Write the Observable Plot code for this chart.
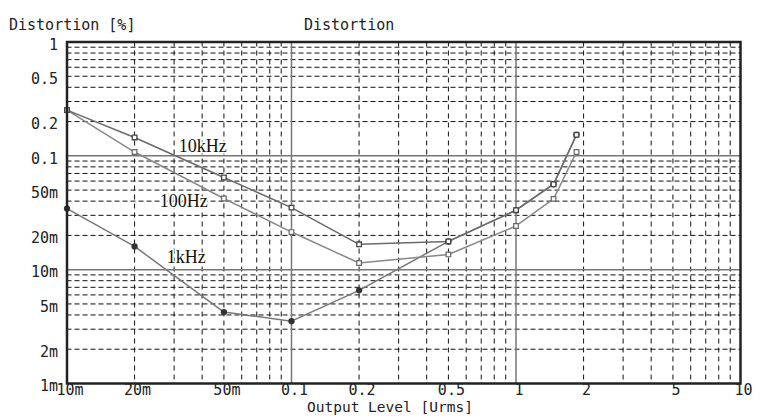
<!DOCTYPE html>
<html>
<head>
<meta charset="utf-8">
<script src="https://cdn.jsdelivr.net/npm/d3@7"></script>
<script src="https://cdn.jsdelivr.net/npm/@observablehq/plot@0.6"></script>
<style>
  html, body { margin: 0; padding: 0; background: #fff; }
  svg { display: block; }
</style>
</head>
<body>
<div id="chart"></div>
<script>
// Output level [Vrms]
const levels = [0.01, 0.02, 0.05, 0.1, 0.2, 0.5, 1, 1.47, 1.86];
// Distortion [%]
const thd10k  = [0.252, 0.145, 0.0645, 0.0351, 0.0167, 0.0177, 0.0333, 0.0563, 0.153];
const thd100  = [0.252, 0.108, 0.0422, 0.0214, 0.01145, 0.0136, 0.0242, 0.0419, 0.108];
const thd1k   = [0.0344, 0.016, 0.00424, 0.00353, 0.00658, 0.0177, 0.0333, 0.0563, 0.153];

const xTicks = [0.01, 0.02, 0.05, 0.1, 0.2, 0.5, 1, 2, 5, 10];
const xTickLabels = ["10m", "20m", "50m", "0.1", "0.2", "0.5", "1", "2", "5", "10"];
const yTicks = [1, 0.5, 0.2, 0.1, 0.05, 0.02, 0.01, 0.005, 0.002, 0.001];
const yTickLabels = ["1", "0.5", "0.2", "0.1", "50m", "20m", "10m", "5m", "2m", "1m"];

const seriesLabels = [
  {name: "10kHz", x: 0.0402, y: 0.1216},
  {name: "100Hz", x: 0.0331, y: 0.0402},
  {name: "1kHz",  x: 0.0340, y: 0.0129}
];

const mk = (ys, name) => levels.map((x, i) => ({x, y: ys[i], name}));
const s10k = mk(thd10k, "10kHz");
const s100 = mk(thd100, "100Hz");
const s1k = mk(thd1k, "1kHz");

const minorX = [], minorY = [];
for (const d of [0.01, 0.1, 1]) for (let k = 2; k <= 9; k++) minorX.push(+(d * k).toPrecision(3));
for (const d of [0.001, 0.01, 0.1]) for (let k = 2; k <= 9; k++) minorY.push(+(d * k).toPrecision(3));

const mono = "'DejaVu Sans Mono', 'Liberation Mono', monospace";

const chart = Plot.plot({
  width: 763,
  height: 418,
  marginLeft: 66.5,
  marginRight: 23,
  marginTop: 41.5,
  marginBottom: 35,
  style: {fontFamily: mono, fontSize: "15px", color: "#222", background: "#fff"},
  x: {type: "log", domain: [0.01, 10], axis: null},
  y: {type: "log", domain: [0.001, 1], axis: null},
  marks: [
    Plot.ruleX(minorX, {stroke: "#111", strokeWidth: 1, strokeDasharray: "5,4"}),
    Plot.ruleY(minorY, {stroke: "#111", strokeWidth: 1, strokeDasharray: "5,3"}),
    Plot.ruleX([0.1, 1], {stroke: "#777", strokeWidth: 1.5}),
    Plot.ruleY([0.01, 0.1], {stroke: "#777", strokeWidth: 1.5}),
    Plot.line(s1k, {x: "x", y: "y", stroke: "#777", strokeWidth: 1.5}),
    Plot.line(s100, {x: "x", y: "y", stroke: "#888", strokeWidth: 1.5}),
    Plot.line(s10k, {x: "x", y: "y", stroke: "#6a6a6a", strokeWidth: 1.5}),
    Plot.dot(s1k, {x: "x", y: "y", r: 2.4, fill: "#333", stroke: "#333"}),
    Plot.dot(s100, {x: "x", y: "y", symbol: "square", r: 2.6, fill: "#fff", stroke: "#666", strokeWidth: 1.2}),
    Plot.dot(s10k, {x: "x", y: "y", symbol: "square", r: 2.6, fill: "#fff", stroke: "#444", strokeWidth: 1.3}),
    Plot.text(seriesLabels, {x: "x", y: "y", text: "name", fontFamily: "'Liberation Serif', 'DejaVu Serif', serif",
      fontSize: 18, fill: "#111", stroke: "#fff", strokeWidth: 3, letterSpacing: "0.5px"}),
    Plot.frame({stroke: "#222", strokeWidth: 2.5}),
    Plot.text(xTicks, {x: d => d, text: (d, i) => xTickLabels[i], frameAnchor: "bottom", dy: 11, dx: 3,
      textAnchor: "middle", fontSize: 15, fill: "#222"}),
    Plot.text(yTicks, {y: d => d, text: (d, i) => yTickLabels[i], frameAnchor: "left", dx: -9, dy: 3,
      textAnchor: "end", fontSize: 15, fill: "#222"}),
    Plot.text(["Distortion [%]"], {frameAnchor: "top-left", dx: -58, dy: -23, textAnchor: "start", fontSize: 15, fill: "#222"}),
    Plot.text(["Distortion"], {frameAnchor: "top-left", dx: 237, dy: -23, textAnchor: "start", fontSize: 15, fill: "#222"}),
    Plot.text(["Output Level [Urms]"], {frameAnchor: "bottom-left", dx: 240, dy: 28.5, textAnchor: "start", fontSize: 14.5, fill: "#222", letterSpacing: "0.8px"})
  ]
});
document.getElementById("chart").appendChild(chart);
</script>
</body>
</html>
